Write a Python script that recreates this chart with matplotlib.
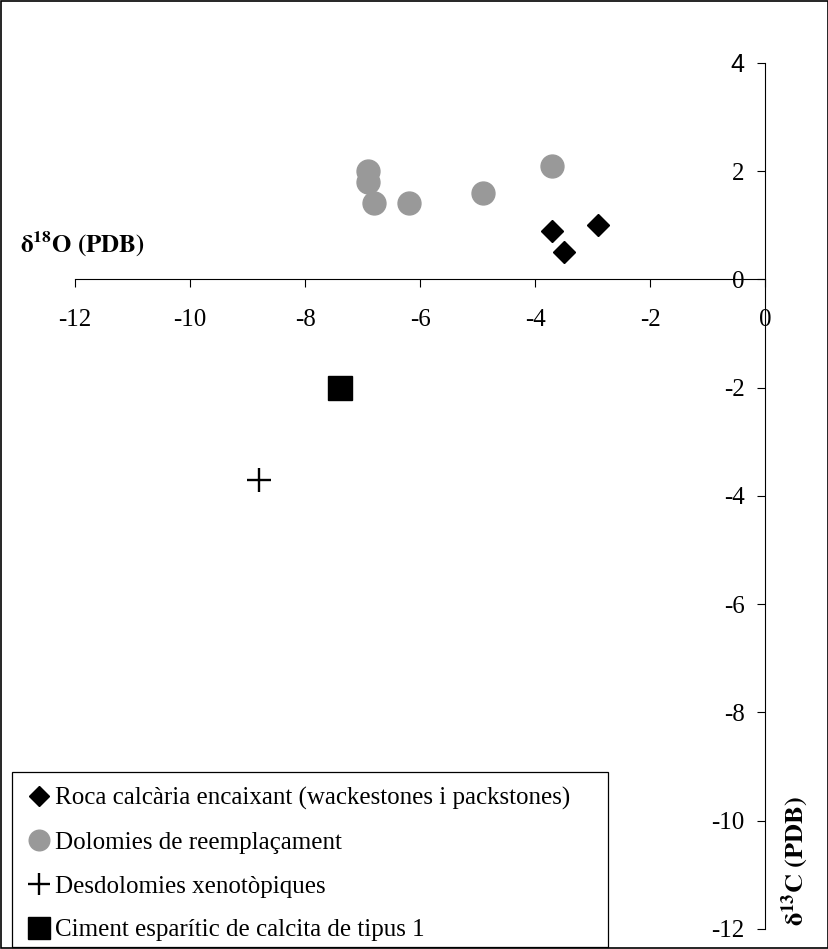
import matplotlib
matplotlib.use("Agg")
import matplotlib.pyplot as plt
from matplotlib.patches import Rectangle

plt.rcParams['font.family'] = ['Liberation Serif', 'DejaVu Serif']
plt.rcParams['mathtext.fontset'] = 'stix'
plt.rcParams['axes.unicode_minus'] = False

# Dades isotòpiques (d18O, d13C)
roca_x = [-3.7, -3.5, -2.9]
roca_y = [0.9, 0.5, 1.0]
dolo_x = [-6.9, -6.9, -6.8, -6.2, -4.9, -3.7]
dolo_y = [2.0, 1.8, 1.4, 1.4, 1.6, 2.1]
desdolo_x = [-8.8]
desdolo_y = [-3.7]
ciment_x = [-7.4]
ciment_y = [-2.0]

labels = ["Roca calcària encaixant (wackestones i packstones)",
          "Dolomies de reemplaçament",
          "Desdolomies xenotòpiques",
          "Ciment esparític de calcita de tipus 1"]
xticks = [-12, -10, -8, -6, -4, -2, 0]
yticks = [-12, -10, -8, -6, -4, -2, 0, 2, 4]

fig = plt.figure(figsize=(8.29, 9.49), dpi=100)
ax = fig.add_axes([0.0905, 0.0211, 0.8323, 0.9128])

ax.plot(roca_x, roca_y, 'D', color='black', ms=11.5, ls='none', label=labels[0])
ax.plot(dolo_x, dolo_y, 'o', color='#999999', ms=16.5, ls='none', label=labels[1])
ax.plot(desdolo_x, desdolo_y, '+', color='black', ms=17.5, mew=1.7, ls='none', label=labels[2])
ax.plot(ciment_x, ciment_y, 's', color='black', ms=17, ls='none', label=labels[3])

ax.set_xlim(-12, 0)
ax.set_ylim(-12, 4)
ax.spines['left'].set_position(('data', 0))
ax.spines['bottom'].set_position(('data', 0))
ax.spines['top'].set_visible(False)
ax.spines['right'].set_visible(False)
ax.set_xticks(xticks)
ax.set_yticks(yticks)
ax.tick_params(direction='out', length=5.5, width=0.8, labelsize=18)
ax.tick_params(axis='x', pad=16)
ax.tick_params(axis='y', pad=9)
for t in ax.get_yticklabels():
    if t.get_text() == '4':
        t.set_family('Liberation Sans')
ax.patch.set_visible(False)

fig.text(0.024, 0.742, r'$\mathbf{\delta^{18}O\ (PDB)}$', fontsize=18, va='center', ha='left')
fig.text(0.959, 0.0927, r'$\mathbf{\delta^{13}C\ (PDB)}$', fontsize=19, va='center', ha='center', rotation=90)

leg = ax.legend(loc='lower left', bbox_to_anchor=(0.032, 0.008), bbox_transform=fig.transFigure,
                fontsize=18, markerscale=0.9, handlelength=1.0, handletextpad=0.12,
                labelspacing=0.85, borderpad=0, borderaxespad=0, frameon=False)

# marc de la llegenda i de la figura
fig.patches.append(Rectangle((0.0145, 0.0021), 0.719, 0.1844, transform=fig.transFigure,
                             fill=False, edgecolor='black', linewidth=0.9))
fig.patches.append(Rectangle((0.001, 0.001), 0.998, 0.998, transform=fig.transFigure,
                             fill=False, edgecolor='black', linewidth=1.2))

fig.savefig('out.png', dpi=100)
